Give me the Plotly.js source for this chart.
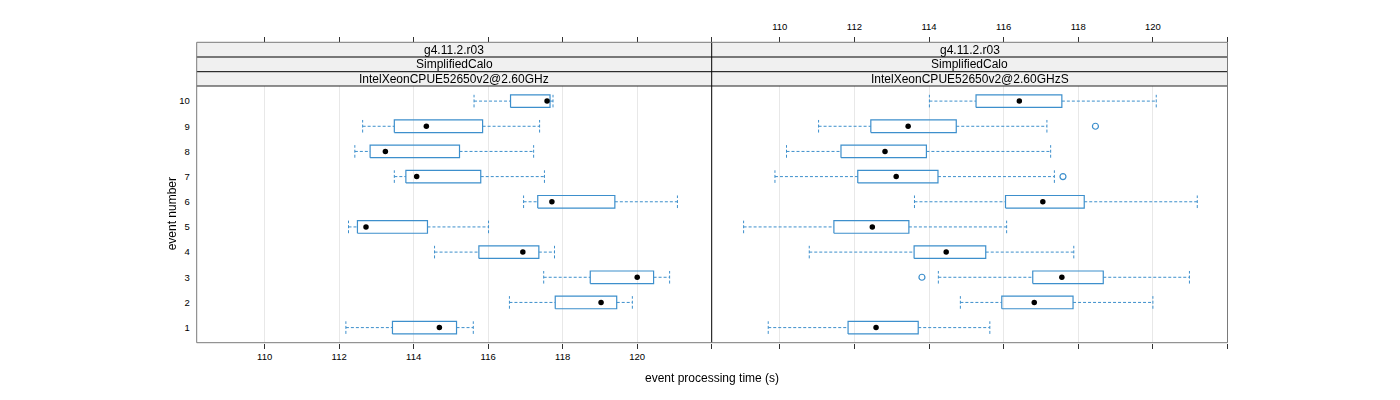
<!DOCTYPE html>
<html>
<head>
<meta charset="utf-8">
<script src="https://cdn.plot.ly/plotly-3.0.1.min.js"></script>
<style>html,body{margin:0;padding:0;background:#fff;}#chart{width:1400px;height:400px;}</style>
</head>
<body>
<div id="chart"></div>
<script>
// ---------- data ----------
var events = [1, 2, 3, 4, 5, 6, 7, 8, 9, 10];
var eventLabels = ['1','2','3','4','5','6','7','8','9','10'];

var stripTop = 'g4.11.2.r03';
var stripMid = 'SimplifiedCalo';
var panelNames = ['IntelXeonCPUE52650v2@2.60GHz', 'IntelXeonCPUE52650v2@2.60GHzS'];

// panel 1 : IntelXeonCPUE52650v2@2.60GHz
var p1Low  = [112.18, 116.57, 117.49, 114.56, 112.25, 116.95, 113.48, 112.42, 112.63, 115.62];
var p1Q1   = [113.43, 117.80, 118.74, 115.75, 112.49, 117.33, 113.79, 112.83, 113.48, 116.60];
var p1Med  = [114.69, 119.03, 120.00, 116.93, 112.72, 117.71, 114.08, 113.24, 114.34, 117.58];
var p1Q3   = [115.15, 119.45, 120.44, 117.36, 114.37, 119.40, 115.80, 115.23, 115.85, 117.66];
var p1High = [115.60, 119.87, 120.87, 117.78, 116.01, 121.08, 117.51, 117.22, 117.38, 117.74];
var p1OutX = [];
var p1OutY = [];

// panel 2 : IntelXeonCPUE52650v2@2.60GHzS
var p2Low  = [109.69, 114.84, 114.25, 110.79, 109.03, 113.61, 109.87, 110.18, 111.04, 114.01];
var p2Q1   = [111.83, 115.95, 116.78, 113.60, 111.45, 116.05, 112.09, 111.64, 112.44, 115.26];
var p2Med  = [112.58, 116.82, 117.56, 114.46, 112.48, 117.05, 113.12, 112.82, 113.44, 116.42];
var p2Q3   = [113.71, 117.86, 118.67, 115.52, 113.46, 118.16, 114.24, 113.93, 114.73, 117.56];
var p2High = [115.63, 120.00, 120.98, 117.88, 116.08, 121.19, 117.36, 117.26, 117.16, 120.09];
var p2OutX = [113.81, 117.59, 118.46];
var p2OutY = [3, 7, 9];

var xTickVals = [110, 112, 114, 116, 118, 120, 122];
var xTickText = ['110', '112', '114', '116', '118', '120', ''];

// ---------- styling ----------
var BLUE = '#3d8fcc';
var FONT = 'Liberation Sans, Arial, Helvetica, sans-serif';
var HALF = 0.25;
var XR = [108.175, 122.0];
var YR = [0.4, 10.6];

function panelTraces(low, q1, med, q3, high, outX, outY, xa) {
  var wx = [], wy = [], bx = [], by = [];
  for (var i = 0; i < events.length; i++) {
    var e = events[i];
    wx.push(low[i], q1[i], null, q3[i], high[i], null);
    wy.push(e, e, null, e, e, null);
    wx.push(low[i], low[i], null, high[i], high[i], null);
    wy.push(e - HALF, e + HALF, null, e - HALF, e + HALF, null);
    bx.push(q1[i], q3[i], q3[i], q1[i], q1[i], null);
    by.push(e - HALF, e - HALF, e + HALF, e + HALF, e - HALF, null);
  }
  return [
    {type: 'scatter', mode: 'lines', x: wx, y: wy, xaxis: xa, yaxis: 'y',
     line: {color: BLUE, width: 1, dash: '3px,2px'}, hoverinfo: 'skip', showlegend: false},
    {type: 'scatter', mode: 'lines', x: bx, y: by, xaxis: xa, yaxis: 'y',
     line: {color: BLUE, width: 1.2}, hoverinfo: 'skip', showlegend: false},
    {type: 'scatter', mode: 'markers', x: med, y: events, xaxis: xa, yaxis: 'y',
     marker: {color: '#000', size: 5.5}, showlegend: false},
    {type: 'scatter', mode: 'markers', x: outX, y: outY, xaxis: xa, yaxis: 'y',
     marker: {symbol: 'circle-open', color: BLUE, size: 6, line: {width: 1.2}}, showlegend: false}
  ];
}

var traces = [].concat(
  panelTraces(p1Low, p1Q1, p1Med, p1Q3, p1High, p1OutX, p1OutY, 'x'),
  panelTraces(p2Low, p2Q1, p2Med, p2Q3, p2High, p2OutX, p2OutY, 'x2'),
  // invisible carriers so the tick-only mirror axes get drawn
  [{type: 'scatter', mode: 'markers', x: p1Med, y: events, xaxis: 'x3', yaxis: 'y',
    opacity: 0, hoverinfo: 'skip', showlegend: false},
   {type: 'scatter', mode: 'markers', x: p2Med, y: events, xaxis: 'x4', yaxis: 'y',
    opacity: 0, hoverinfo: 'skip', showlegend: false}]
);

// geometry (paper fractions)
var W = 1400, H = 400;
function px(v) { return v / W; }
function py(v) { return 1 - v / H; }
var L = px(196.7), M = px(711.7), R = px(1227.5);
var yBot = py(342.7), yPanelTop = py(86), yS2 = py(71.7), yS1 = py(57), yStripTop = py(42.3);

function baseX(domain) {
  return {
    domain: domain, range: XR, type: 'linear',
    tickmode: 'array', tickvals: xTickVals, ticktext: xTickText,
    ticks: 'outside', ticklen: 5, tickwidth: 1, tickcolor: '#333',
    tickfont: {family: FONT, size: 9.5, color: '#000'},
    showline: false, zeroline: false, showgrid: false, fixedrange: true
  };
}

var xaxis = baseX([L, M]);
xaxis.anchor = 'y'; xaxis.showgrid = true; xaxis.gridcolor = '#e8e8e8'; xaxis.gridwidth = 1;
var xaxis3 = baseX([L, M]);
xaxis3.overlaying = 'x'; xaxis3.anchor = 'free'; xaxis3.position = yStripTop; xaxis3.side = 'top'; xaxis3.showticklabels = false;
var xaxis2 = baseX([M, R]);
xaxis2.anchor = 'free'; xaxis2.position = yStripTop; xaxis2.side = 'top'; xaxis2.showgrid = true; xaxis2.gridcolor = '#e8e8e8'; xaxis2.gridwidth = 1;
xaxis2.ticklabelstandoff = 4;
var xaxis4 = baseX([M, R]);
xaxis4.overlaying = 'x2'; xaxis4.anchor = 'y'; xaxis4.side = 'bottom'; xaxis4.showticklabels = false;

var yaxis = {
  domain: [yBot, yPanelTop], range: YR, anchor: 'x',
  tickmode: 'array', tickvals: events, ticktext: eventLabels,
  ticks: 'outside', ticklen: 4, tickcolor: 'rgba(0,0,0,0)',
  tickfont: {family: FONT, size: 9.5, color: '#000'},
  showline: false, zeroline: false, showgrid: false, fixedrange: true
};

var shapes = [];
function rect(x0, x1, y0, y1, fill) {
  shapes.push({type: 'rect', xref: 'paper', yref: 'paper', x0: x0, x1: x1, y0: y0, y1: y1,
               fillcolor: fill, line: {width: 0}, layer: 'below'});
}
function line(x0, y0, x1, y1, color) {
  shapes.push({type: 'line', xref: 'paper', yref: 'paper', x0: x0, y0: y0, x1: x1, y1: y1,
               line: {color: color, width: 1}});
}
rect(L, R, yPanelTop, yStripTop, '#f0f0f0');
line(L, yS1, R, yS1, '#000');
line(L, yS2, R, yS2, '#000');
line(L, yPanelTop, R, yPanelTop, '#222');
line(M, yBot, M, yStripTop, '#000');
line(L, yBot, L, yStripTop, '#7a7a7a');
line(R, yBot, R, yStripTop, '#7a7a7a');
line(L, yBot, R, yBot, '#7a7a7a');
line(L, yStripTop, R, yStripTop, '#7a7a7a');

var annotations = [];
function stripText(txt, x, y) {
  annotations.push({xref: 'paper', yref: 'paper', x: x, y: y, text: txt, showarrow: false,
                    xanchor: 'center', yanchor: 'middle', font: {family: FONT, size: 12, color: '#000'}});
}
var c1 = (L + M) / 2, c2 = (M + R) / 2;
stripText(stripTop, c1, (yStripTop + yS1) / 2);
stripText(stripMid, c1, (yS1 + yS2) / 2);
stripText(panelNames[0], c1, (yS2 + yPanelTop) / 2);
stripText(stripTop, c2, (yStripTop + yS1) / 2);
stripText(stripMid, c2, (yS1 + yS2) / 2);
stripText(panelNames[1], c2, (yS2 + yPanelTop) / 2);

annotations.push({xref: 'paper', yref: 'paper', x: M, y: py(378), text: 'event processing time (s)',
                  showarrow: false, xanchor: 'center', yanchor: 'middle',
                  font: {family: FONT, size: 12, color: '#000'}});
annotations.push({xref: 'paper', yref: 'paper', x: px(172), y: (yBot + yPanelTop) / 2, text: 'event number',
                  showarrow: false, xanchor: 'center', yanchor: 'middle', textangle: -90,
                  font: {family: FONT, size: 12, color: '#000'}});

var layout = {
  width: W, height: H,
  margin: {l: 0, r: 0, t: 0, b: 0},
  paper_bgcolor: '#fff', plot_bgcolor: 'rgba(0,0,0,0)',
  showlegend: false,
  xaxis: xaxis, xaxis2: xaxis2, xaxis3: xaxis3, xaxis4: xaxis4, yaxis: yaxis,
  shapes: shapes, annotations: annotations,
  font: {family: FONT}
};

Plotly.newPlot('chart', traces, layout, {displayModeBar: false, staticPlot: true});
</script>
</body>
</html>
